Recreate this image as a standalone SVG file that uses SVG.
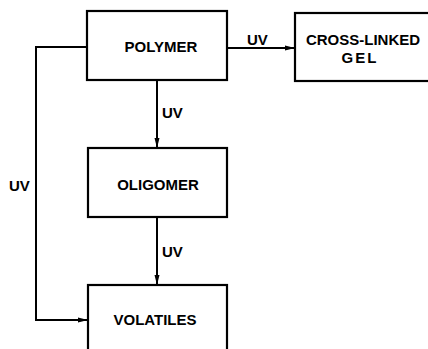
<svg xmlns="http://www.w3.org/2000/svg" width="428" height="349" viewBox="0 0 428 349">
<style>
.box{fill:#fff;stroke:#000;stroke-width:2.2}
.lbl{font-family:"Liberation Sans",Arial,sans-serif;font-weight:bold;font-size:15px;fill:#000}
.c{text-anchor:middle}
.ln{fill:none;stroke:#000;stroke-width:2}
</style>
<defs>
<marker id="ah" markerWidth="10" markerHeight="6" refX="9" refY="3" orient="auto" markerUnits="userSpaceOnUse">
<path d="M0,0.5 L10,3 L0,5.5 Z" fill="#000"/>
</marker>
</defs>
<rect width="428" height="349" fill="#fff"/>
<g id="connectors">
<line class="ln" x1="227" y1="48" x2="294" y2="48" marker-end="url(#ah)"/>
<text class="lbl" x="247" y="45">UV</text>
<line class="ln" x1="157" y1="80" x2="157" y2="147" marker-end="url(#ah)"/>
<text class="lbl" x="162" y="118">UV</text>
<line class="ln" x1="157" y1="217" x2="157" y2="284" marker-end="url(#ah)"/>
<text class="lbl" x="162" y="257">UV</text>
<polyline class="ln" points="87,47 36,47 36,320 87,320" marker-end="url(#ah)"/>
<text class="lbl" x="9" y="191">UV</text>
</g>
<g id="polymer">
<rect class="box" x="87" y="11" width="140" height="69"/>
<text class="lbl c" x="161" y="52">POLYMER</text>
</g>
<g id="crosslinked">
<rect class="box" x="295" y="13" width="140" height="68"/>
<text class="lbl c" x="363" y="45">CROSS-LINKED</text>
<text class="lbl c" x="360" y="63" letter-spacing="2">GEL</text>
</g>
<g id="oligomer">
<rect class="box" x="88" y="148" width="139" height="69"/>
<text class="lbl c" x="158" y="190">OLIGOMER</text>
</g>
<g id="volatiles">
<rect class="box" x="88" y="285" width="139" height="80"/>
<text class="lbl c" x="155" y="325">VOLATILES</text>
</g>
</svg>
